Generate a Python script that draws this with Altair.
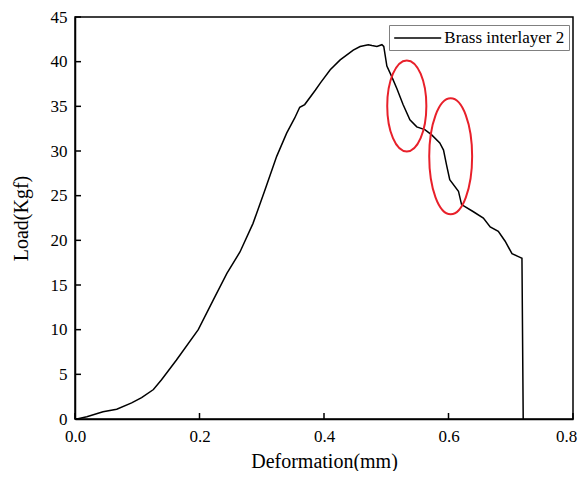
import altair as alt
import pandas as pd

# Load-deformation curve
deformation = [0.0, 0.003, 0.019, 0.045, 0.067, 0.091, 0.107, 0.126, 0.139, 0.163,
               0.198, 0.222, 0.244, 0.265, 0.286, 0.305, 0.324, 0.340, 0.353, 0.361,
               0.369, 0.386, 0.394, 0.410, 0.426, 0.447, 0.458, 0.471, 0.477, 0.485,
               0.493, 0.496, 0.501, 0.509, 0.517, 0.527, 0.538, 0.549, 0.562, 0.573,
               0.586, 0.592, 0.597, 0.602, 0.616, 0.621, 0.640, 0.656, 0.667, 0.680,
               0.691, 0.702, 0.715, 0.718, 0.720]
load = [0.0, 0.0, 0.26, 0.8, 1.1, 1.8, 2.4, 3.3, 4.4, 6.6,
        10.0, 13.3, 16.3, 18.7, 21.9, 25.6, 29.4, 32.0, 33.7, 34.9,
        35.2, 36.8, 37.6, 39.1, 40.2, 41.3, 41.7, 41.9, 41.8, 41.7,
        41.9, 41.7, 39.5, 38.3, 37.0, 35.2, 33.5, 32.7, 32.4, 31.8,
        30.9, 30.1, 28.4, 26.8, 25.5, 24.0, 23.2, 22.5, 21.5, 21.0,
        19.9, 18.5, 18.1, 18.0, 0.0]
series_name = "Brass interlayer 2"

x_ticks = [0.0, 0.2, 0.4, 0.6, 0.8]
y_ticks = [0, 5, 10, 15, 20, 25, 30, 35, 40, 45]

# annotation ellipse centres (data coordinates)
ell1_x = [0.533]
ell1_y = [35.05]
ell2_x = [0.6035]
ell2_y = [29.4]

W, H = 498, 402
FONT = "Liberation Serif"
TICK = 6

df = pd.DataFrame({"x": deformation, "y": load, "order": list(range(len(load))),
                   "series": [series_name] * len(load)})

xscale = alt.Scale(domain=[0, 0.8], nice=False, zero=False)
yscale = alt.Scale(domain=[0, 45], nice=False, zero=False)

line = alt.Chart(df).mark_line(strokeWidth=1.5).encode(
    x=alt.X("x:Q", scale=xscale,
            axis=alt.Axis(values=x_ticks, format=".1f", ticks=False, grid=False,
                          labelFlush=False, labelPadding=9,
                          labelOffset={"condition": {"test": "datum.value >= 0.79", "value": -7},
                                       "value": 0},
                          title="Deformation(mm)", titlePadding=7)),
    y=alt.Y("y:Q", scale=yscale,
            axis=alt.Axis(values=y_ticks, format="d", ticks=False, grid=False,
                          labelFlush=False, labelPadding=8,
                          title="Load(Kgf)", titlePadding=19)),
    order="order:Q",
    color=alt.Color("series:N", scale=alt.Scale(range=["black"]),
                    legend=alt.Legend(title=None, orient="none", legendX=314, legendY=8,
                                      symbolType="M -3 0 L 3 0", symbolSize=245.5,
                                      symbolOffset=15.7,
                                      symbolStrokeWidth=1.5, symbolStrokeColor="black",
                                      labelFont=FONT, labelFontSize=17, labelColor="black",
                                      labelOffset=17.6, strokeColor="#808080", padding=4,
                                      fillColor="white")),
)

# inward ticks drawn at the tick values through the scales
xt = alt.Chart(pd.DataFrame({"t": x_ticks})).mark_rule(color="black", strokeWidth=1.5).encode(
    x=alt.X("t:Q", scale=xscale), y=alt.value(H), y2=alt.value(H - TICK))
yt = alt.Chart(pd.DataFrame({"t": y_ticks})).mark_rule(color="black", strokeWidth=1.5).encode(
    y=alt.Y("t:Q", scale=yscale), x=alt.value(0), x2=alt.value(TICK))

e1 = alt.Chart(pd.DataFrame({"x": ell1_x, "y": ell1_y})).mark_point(
    shape="M -0.43 0 A 0.43 1 0 1 0 0.43 0 A 0.43 1 0 1 0 -0.43 0 Z",
    size=8281, filled=False, color="#e8202a", strokeWidth=2, opacity=1,
).encode(x=alt.X("x:Q", scale=xscale), y=alt.Y("y:Q", scale=yscale))

e2 = alt.Chart(pd.DataFrame({"x": ell2_x, "y": ell2_y})).mark_point(
    shape="M -0.37 0 A 0.37 1 0 1 0 0.37 0 A 0.37 1 0 1 0 -0.37 0 Z",
    size=13456, filled=False, color="#e8202a", strokeWidth=2, opacity=1,
).encode(x=alt.X("x:Q", scale=xscale), y=alt.Y("y:Q", scale=yscale))

chart = alt.layer(line, xt, yt, e1, e2).properties(
    width=W, height=H,
    background="white",
    autosize=alt.AutoSizeParams(type="none"),
    padding={"left": 67, "top": 9, "right": 6, "bottom": 52},
).configure_view(
    stroke="black", strokeWidth=1.5
).configure_axis(
    labelFont=FONT, labelFontSize=17, labelColor="black",
    titleFont=FONT, titleFontSize=20, titleColor="black", titleFontWeight="normal",
    domainColor="black", domainWidth=1.5,
)

chart.save("out.html", embed_options={"renderer": "svg", "actions": False})
